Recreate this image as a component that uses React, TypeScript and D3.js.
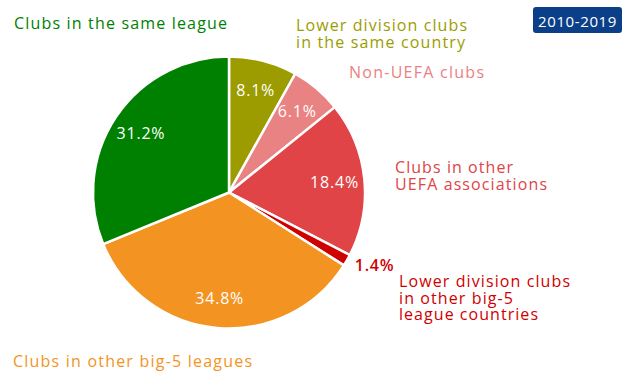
import React, { useEffect, useRef } from "react";
import * as d3 from "d3";

// Transfer destinations, 2010-2019 (share of outgoing transfers, %)
const categories: string[] = [
  "Lower division clubs in the same country",
  "Non-UEFA clubs",
  "Clubs in other UEFA associations",
  "Lower division clubs in other big-5 league countries",
  "Clubs in other big-5 leagues",
  "Clubs in the same league",
];
const values: number[] = [8.1, 6.1, 18.4, 1.4, 34.8, 31.2];
const colors: string[] = ["#9c9c00", "#e98282", "#e04446", "#cf0000", "#f39422", "#008000"];
const periodLabel = "2010-2019";

// category names, wrapped as in the original
const nameLines: string[][] = [
  ["Lower division clubs", "in the same country"],
  ["Non-UEFA clubs"],
  ["Clubs in other", "UEFA associations"],
  ["Lower division clubs", "in other big-5", "league countries"],
  ["Clubs in other big-5 leagues"],
  ["Clubs in the same league"],
];
// layout: anchor of each name block and rendered width of each line
const namePos: [number, number][] = [
  [296, 31],
  [349, 78],
  [395, 173],
  [399, 287],
  [13, 367],
  [14, 29],
];
const lineWidths: number[][] = [
  [171, 169],
  [135],
  [118, 152],
  [171, 114, 139],
  [239],
  [213],
];

const width = 640;
const height = 387;
const font = "'Open Sans', 'DejaVu Sans', sans-serif";

const App: React.FC = () => {
  const svgRef = useRef<SVGSVGElement>(null);

  useEffect(() => {
    if (!svgRef.current) return;
    const svg = d3.select(svgRef.current);
    svg.selectAll("*").remove();

    const cx = 229;
    const cy = 192.5;
    const radius = 136;

    const pie = d3.pie<number>().sort(null).value((d) => d);
    const arcs = pie(values);
    const arc = d3.arc<d3.PieArcDatum<number>>().innerRadius(0).outerRadius(radius);
    const labelArc = d3.arc<d3.PieArcDatum<number>>().innerRadius(106).outerRadius(106);
    const outerArc = d3.arc<d3.PieArcDatum<number>>().innerRadius(145).outerRadius(145);

    const g = svg.append("g").attr("transform", `translate(${cx},${cy})`);

    g.selectAll("path")
      .data(arcs)
      .join("path")
      .attr("d", arc)
      .attr("fill", (_, i) => colors[i])
      .attr("stroke", "#fff")
      .attr("stroke-width", 2.5)
      .attr("stroke-linejoin", "round");

    // percentage labels: inside for the big slices, outside for tiny ones
    g.selectAll("text.pct")
      .data(arcs)
      .join("text")
      .attr("class", "pct")
      .attr("transform", (d) => {
        const [x, y] = d.data < 3 ? outerArc.centroid(d) : labelArc.centroid(d);
        return `translate(${x},${y})`;
      })
      .attr("text-anchor", (d) => (d.data < 3 ? "start" : "middle"))
      .attr("dominant-baseline", "central")
      .attr("font-family", font)
      .attr("font-size", 16)
      .attr("letter-spacing", 0.8)
      .attr("font-weight", (d) => (d.data < 3 ? 600 : 500))
      .attr("fill", (d, i) => (d.data < 3 ? colors[i] : "#fff"))
      .text((d) => `${d.data.toFixed(1)}%`);

    // category names
    categories.forEach((_, i) => {
      const t = svg
        .append("text")
        .attr("font-family", font)
        .attr("font-size", 16)
        .attr("fill", colors[i]);
      nameLines[i].forEach((line, j) => {
        t.append("tspan")
          .attr("x", namePos[i][0])
          .attr("y", namePos[i][1] + j * 16.5)
          .attr("textLength", lineWidths[i][j])
          .attr("lengthAdjust", "spacing")
          .text(line);
      });
    });

    // period badge
    svg
      .append("rect")
      .attr("x", 533)
      .attr("y", 7)
      .attr("width", 89)
      .attr("height", 26)
      .attr("rx", 3)
      .attr("fill", "#0b3f87");
    svg
      .append("text")
      .attr("x", 577.5)
      .attr("y", 20.5)
      .attr("text-anchor", "middle")
      .attr("dominant-baseline", "central")
      .attr("font-family", font)
      .attr("font-size", 15)
      .attr("letter-spacing", 0.6)
      .attr("fill", "#fff")
      .text(periodLabel);
  }, []);

  return (
    <svg
      ref={svgRef}
      width={width}
      height={height}
      style={{ position: "absolute", left: 0, top: 0, background: "#fff", display: "block" }}
    />
  );
};

export default App;
